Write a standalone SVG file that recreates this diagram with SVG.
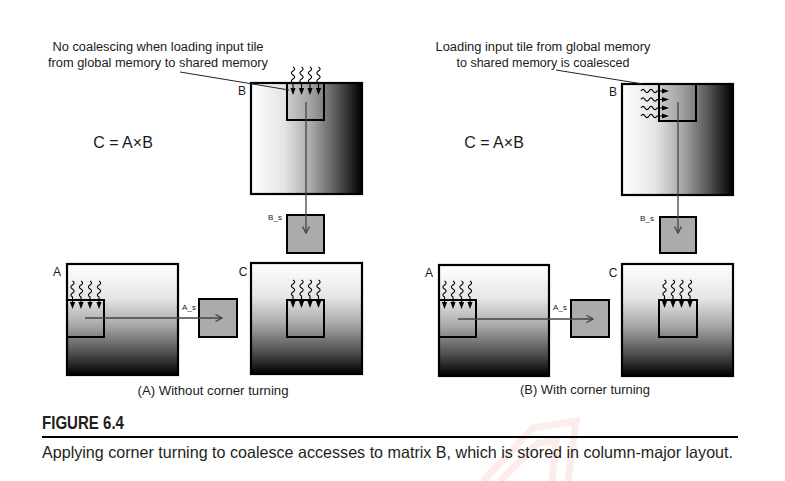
<svg xmlns="http://www.w3.org/2000/svg" xmlns:xlink="http://www.w3.org/1999/xlink" width="785" height="481" viewBox="0 0 785 481">
<style>
  .t { font-family: "Liberation Sans", Arial, sans-serif; fill: #1a1a1a; }
  .note { font-size: 12px; }
  .lbl { font-size: 12px; }
  .sm { font-size: 8px; }
  .eq { font-size: 16px; }
  .sub { font-size: 12.5px; }
  .mat { stroke: #000; stroke-width: 2.2; }
  .tile { stroke: #000; stroke-width: 2; fill: none; }
  .btile { stroke: #000; stroke-width: 2; fill: #808080; fill-opacity: 0.18; }
  .shr { stroke: #000; stroke-width: 2; fill: #ababab; }
  .flow { stroke: #444; stroke-width: 1.3; fill: none; marker-end: url(#open); }
  .lead { stroke: #222; stroke-width: 1; fill: none; }
  .wave { stroke: #000; stroke-width: 1.1; fill: none; }
  .cap { font-family: "Liberation Sans", Arial, sans-serif; fill: #231f20; }
  .wm { stroke: #f2a0a0; stroke-opacity: 0.2; stroke-width: 7; fill: none; }
</style>
<defs>
  <linearGradient id="gh" x1="0" y1="0" x2="1" y2="0">
    <stop offset="0" stop-color="#ffffff"/>
    <stop offset="0.3" stop-color="#e4e4e4"/>
    <stop offset="0.55" stop-color="#a6a6a6"/>
    <stop offset="0.78" stop-color="#555555"/>
    <stop offset="1" stop-color="#000000"/>
  </linearGradient>
  <linearGradient id="gv" x1="0" y1="0" x2="0" y2="1">
    <stop offset="0" stop-color="#ffffff"/>
    <stop offset="0.3" stop-color="#e6e6e6"/>
    <stop offset="0.55" stop-color="#a8a8a8"/>
    <stop offset="0.8" stop-color="#505050"/>
    <stop offset="1" stop-color="#000000"/>
  </linearGradient>
  <marker id="open" viewBox="0 0 8 8" refX="7" refY="4" markerWidth="8" markerHeight="8" markerUnits="userSpaceOnUse" orient="auto">
    <path d="M0.5,0.5 L7,4 L0.5,7.5" fill="none" stroke="#444" stroke-width="1.3"/>
  </marker>
  <g id="sq">
    <path class="wave" d="M0,0 c2.2,1.3 2.2,2.7 0,4 c-2.2,1.3 -2.2,2.7 0,4 c2.2,1.3 2.2,2.7 0,4 c-2.2,1.3 -2.2,2.7 0,4 L0,22"/>
    <polygon points="-2.6,21 2.6,21 0,28" fill="#000"/>
  </g>
</defs>
<rect width="785" height="481" fill="#ffffff"/>

<!-- watermark -->
<g id="watermark">
  <polyline class="wm" points="483,481 533,428 576,421 568,481"/>
  <polyline class="wm" points="500,481 538,443 556,441 552,481"/>
</g>

<!-- Panel A: without corner turning -->
<g id="panelA">
  <g id="noteA">
    <text class="t note" x="158" y="51" text-anchor="middle" textLength="211" lengthAdjust="spacingAndGlyphs">No coalescing when loading input tile</text>
    <text class="t note" x="158" y="67" text-anchor="middle" textLength="220" lengthAdjust="spacingAndGlyphs">from global memory to shared memory</text>
  </g>
  <text id="eqA" class="t eq" x="123" y="148" text-anchor="middle">C = A×B</text>
  <g id="matBA">
    <rect class="mat" x="251" y="83" width="111" height="111" fill="url(#gh)"/>
    <rect class="btile" x="287" y="83" width="37" height="37"/>
    <text class="t lbl" x="242" y="95" text-anchor="middle">B</text>
    <use href="#sq" transform="translate(293,67)"/>
    <use href="#sq" transform="translate(301.5,67)"/>
    <use href="#sq" transform="translate(310,67)"/>
    <use href="#sq" transform="translate(318.5,67)"/>
  </g>
  <g id="bsA">
    <rect class="shr" x="287" y="215" width="37" height="38"/>
    <text class="t sm" x="275" y="220" text-anchor="middle">B_s</text>
  </g>
  <g id="matAA">
    <rect class="mat" x="67" y="264" width="111" height="111" fill="url(#gv)"/>
    <rect class="tile" x="67" y="300" width="37" height="37"/>
    <text class="t lbl" x="57" y="276" text-anchor="middle">A</text>
    <use href="#sq" transform="translate(72.5,281)"/>
    <use href="#sq" transform="translate(81,281)"/>
    <use href="#sq" transform="translate(90,281)"/>
    <use href="#sq" transform="translate(99,281)"/>
  </g>
  <g id="asA">
    <rect class="shr" x="199" y="299" width="38" height="38"/>
    <text class="t sm" x="189" y="310" text-anchor="middle">A_s</text>
  </g>
  <g id="matCA">
    <rect class="mat" x="251" y="263" width="111" height="111" fill="url(#gv)"/>
    <rect class="tile" x="287" y="300" width="37" height="37"/>
    <text class="t lbl" x="243" y="276" text-anchor="middle">C</text>
    <use href="#sq" transform="translate(293,280)"/>
    <use href="#sq" transform="translate(301.5,280)"/>
    <use href="#sq" transform="translate(310,280)"/>
    <use href="#sq" transform="translate(318.5,280)"/>
  </g>
  <text id="subA" class="t sub" x="213" y="395" text-anchor="middle" textLength="151" lengthAdjust="spacingAndGlyphs">(A) Without corner turning</text>
</g>

<!-- Panel B: with corner turning -->
<g id="panelB">
  <g id="noteB">
    <text class="t note" x="543" y="51" text-anchor="middle" textLength="215" lengthAdjust="spacingAndGlyphs">Loading input tile from global memory</text>
    <text class="t note" x="543" y="67" text-anchor="middle" textLength="173" lengthAdjust="spacingAndGlyphs">to shared memory is coalesced</text>
  </g>
  <text id="eqB" class="t eq" x="494" y="148" text-anchor="middle">C = A×B</text>
  <g id="matBB">
    <rect class="mat" x="622" y="84" width="111" height="111" fill="url(#gh)"/>
    <rect class="btile" x="659" y="84" width="37" height="37"/>
    <text class="t lbl" x="613" y="96" text-anchor="middle">B</text>
    <use href="#sq" transform="translate(641,91) rotate(-90)"/>
    <use href="#sq" transform="translate(641,99.5) rotate(-90)"/>
    <use href="#sq" transform="translate(641,108) rotate(-90)"/>
    <use href="#sq" transform="translate(641,116) rotate(-90)"/>
  </g>
  <g id="bsB">
    <rect class="shr" x="660" y="217" width="36" height="36"/>
    <text class="t sm" x="647" y="221" text-anchor="middle">B_s</text>
  </g>
  <g id="matAB">
    <rect class="mat" x="439" y="265" width="110" height="111" fill="url(#gv)"/>
    <rect class="tile" x="439" y="300" width="37" height="37"/>
    <text class="t lbl" x="429" y="277" text-anchor="middle">A</text>
    <use href="#sq" transform="translate(444.5,281)"/>
    <use href="#sq" transform="translate(453,281)"/>
    <use href="#sq" transform="translate(461.5,281)"/>
    <use href="#sq" transform="translate(470,281)"/>
  </g>
  <g id="asB">
    <rect class="shr" x="571" y="300" width="38" height="37"/>
    <text class="t sm" x="560" y="310" text-anchor="middle">A_s</text>
  </g>
  <g id="matCB">
    <rect class="mat" x="622" y="264" width="111" height="112" fill="url(#gv)"/>
    <rect class="tile" x="659" y="300" width="38" height="37"/>
    <text class="t lbl" x="613" y="277" text-anchor="middle">C</text>
    <use href="#sq" transform="translate(664.5,280)"/>
    <use href="#sq" transform="translate(673,280)"/>
    <use href="#sq" transform="translate(681.5,280)"/>
    <use href="#sq" transform="translate(690,280)"/>
  </g>
  <text id="subB" class="t sub" x="585" y="394" text-anchor="middle" textLength="130" lengthAdjust="spacingAndGlyphs">(B) With corner turning</text>
</g>

<!-- connectors -->
<g id="connectors">
  <line class="lead" x1="180" y1="72" x2="289" y2="90"/>
  <line class="lead" x1="556" y1="70" x2="643" y2="84"/>
  <line class="flow" x1="306" y1="102" x2="306" y2="233"/>
  <line class="flow" x1="85" y1="318" x2="222" y2="318"/>
  <line class="flow" x1="678" y1="102" x2="678" y2="233"/>
  <line class="flow" x1="458" y1="319" x2="593" y2="319"/>
</g>

<!-- figure caption -->
<g id="caption">
  <text class="cap" x="42" y="429" font-size="18" font-weight="bold" textLength="82" lengthAdjust="spacingAndGlyphs">FIGURE 6.4</text>
  <line x1="42" y1="437" x2="738" y2="437" stroke="#000" stroke-width="2"/>
  <text class="cap" x="42" y="458" font-size="16.5" textLength="691" lengthAdjust="spacingAndGlyphs">Applying corner turning to coalesce accesses to matrix B, which is stored in column-major layout.</text>
</g>
</svg>
